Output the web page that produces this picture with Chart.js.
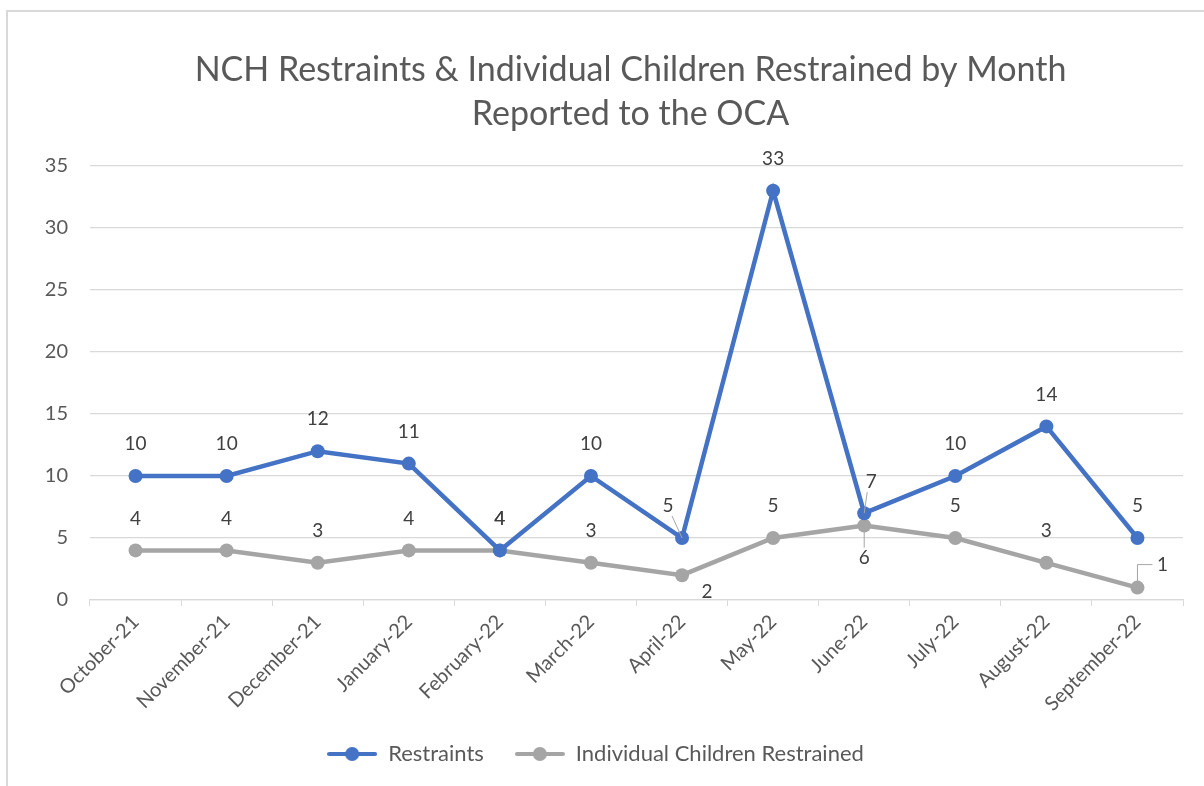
<!DOCTYPE html>
<html>
<head>
<meta charset="utf-8">
<script src="https://cdn.jsdelivr.net/npm/chart.js@4.4.1/dist/chart.umd.min.js"></script>
<style>
  html, body { margin: 0; padding: 0; background: #fff; overflow: hidden; }
  #box {
    position: absolute; left: 6px; top: 10px; width: 1198px; height: 776px;
    border-left: 2px solid #d9d9d9; border-top: 2px solid #d9d9d9; box-sizing: border-box;
  }
  #wrap { position: absolute; left: 0; top: 0; width: 1196px; height: 766px; }
</style>
</head>
<body>
<div id="box"><div id="wrap"><canvas id="nchChart"></canvas></div></div>
<script>
const months = ["October-21", "November-21", "December-21", "January-22", "February-22", "March-22",
    "April-22", "May-22", "June-22", "July-22", "August-22", "September-22"];
const restraints = [10, 10, 12, 11, 4, 10, 5, 33, 7, 10, 14, 5];
const childrenRestrained = [4, 4, 3, 4, 4, 3, 2, 5, 6, 5, 3, 1];
const yTicks = [0, 5, 10, 15, 20, 25, 30, 35];
const titleLines = ["NCH Restraints & Individual Children Restrained by Month", "Reported to the OCA"];

const BLUE = "#4472C4";
const GRAY = "#A5A5A5";
const TEXT = "#595959";
const FONT = "Lato, 'Open Sans', sans-serif";

// label placement tweaks (px from the point), only where Excel moved them
const labelShift = {
    0: { 6: { dx: -14, dy: -32, leader: true }, 8: { dx: 7, dy: -31, leader: true } },
    1: { 6: { dx: 25, dy: 17 }, 8: { dx: 0, dy: 32, leader: true }, 11: { dx: 25, dy: -23, elbow: true } },
};

const titlePlugin = {
    id: "twoLineTitle",
    afterDraw(chart) {
        const { ctx, chartArea } = chart;
        const cx = (chartArea.left + chartArea.right) / 2;
        ctx.save();
        ctx.fillStyle = TEXT;
        ctx.font = "34px " + FONT;
        ctx.textAlign = "center";
        ctx.textBaseline = "middle";
        titleLines.forEach((t, i) => ctx.fillText(t, cx - 6, 58 + i * 44));
        ctx.restore();
    },
};

const valueLabels = {
    id: "valueLabels",
    afterDatasetsDraw(chart) {
        const { ctx } = chart;
        ctx.save();
        ctx.font = "19px " + FONT;
        ctx.textAlign = "center";
        ctx.textBaseline = "middle";
        chart.data.datasets.forEach((ds, di) => {
            const meta = chart.getDatasetMeta(di);
            meta.data.forEach((pt, i) => {
                const s = (labelShift[di] && labelShift[di][i]) || { dx: 0, dy: -32 };
                const lx = pt.x + s.dx, ly = pt.y + s.dy;
                ctx.strokeStyle = GRAY;
                ctx.lineWidth = 1;
                if (s.leader) {
                    ctx.beginPath();
                    ctx.moveTo(pt.x, pt.y);
                    ctx.lineTo(lx + (s.dx < 0 ? 4 : s.dx > 0 ? -4 : 0), ly + (s.dy < 0 ? 10 : -10));
                    ctx.stroke();
                }
                if (s.elbow) {
                    ctx.beginPath();
                    ctx.moveTo(pt.x, pt.y - 6);
                    ctx.lineTo(pt.x, ly);
                    ctx.lineTo(lx - 10, ly);
                    ctx.stroke();
                }
                ctx.fillStyle = "#404040";
                ctx.fillText(String(ds.data[i]), lx, ly);
            });
        });
        ctx.restore();
    },
};

function legendMarker(color) {
    const c = document.createElement("canvas");
    c.width = 50; c.height = 16;
    const g = c.getContext("2d");
    g.strokeStyle = color;
    g.lineWidth = 4;
    g.lineCap = "round";
    g.beginPath(); g.moveTo(2, 8); g.lineTo(48, 8); g.stroke();
    g.fillStyle = color;
    g.beginPath(); g.arc(25, 8, 7, 0, Math.PI * 2); g.fill();
    return c;
}

document.addEventListener("DOMContentLoaded", () => {
    const ctx = document.getElementById("nchChart");
    if (!ctx) return;

    new Chart(ctx, {
        type: "line",
        data: {
            labels: months,
            datasets: [
                {
                    label: "Restraints",
                    data: restraints,
                    borderColor: BLUE,
                    backgroundColor: BLUE,
                    borderWidth: 4.5,
                    pointRadius: 7,
                    pointBorderWidth: 0,
                    pointBackgroundColor: BLUE,
                    tension: 0,
                },
                {
                    label: "Individual Children Restrained",
                    data: childrenRestrained,
                    borderColor: GRAY,
                    backgroundColor: GRAY,
                    borderWidth: 4.5,
                    pointRadius: 7,
                    pointBorderWidth: 0,
                    pointBackgroundColor: GRAY,
                    tension: 0,
                },
            ],
        },
        options: {
            responsive: true,
            maintainAspectRatio: false,
            animation: false,
            layout: { padding: { top: 154, right: 21, left: 0, bottom: 3 } },
            scales: {
                y: {
                    min: 0,
                    max: 35,
                    afterBuildTicks: (axis) => { axis.ticks = yTicks.map(v => ({ value: v })); },
                    afterFit: (axis) => { axis.width = 82; },
                    border: { display: false },
                    grid: { color: "#d9d9d9", lineWidth: 1.2, drawTicks: false },
                    ticks: { color: TEXT, font: { family: FONT, size: 20 }, padding: 22 },
                },
                x: {
                    offset: true,
                    afterFit: (axis) => { axis.height = 112; },
                    border: { display: true, color: "#d9d9d9", width: 1.2 },
                    grid: { offset: true, drawOnChartArea: false, drawTicks: true, tickLength: 6, color: "#d9d9d9" },
                    ticks: {
                        color: TEXT,
                        font: { family: FONT, size: 20 },
                        minRotation: 45,
                        maxRotation: 45,
                        autoSkip: false,
                        padding: 4,
                    },
                },
            },
            plugins: {
                title: { display: false },
                tooltip: { enabled: false },
                legend: {
                    display: true,
                    position: "bottom",
                    labels: {
                        color: TEXT,
                        font: { family: FONT, size: 22 },
                        usePointStyle: true,
                        pointStyleWidth: 50,
                        padding: 31,
                        generateLabels: (chart) => chart.data.datasets.map((ds, i) => ({
                            text: ds.label,
                            fontColor: TEXT,
                            pointStyle: legendMarker(ds.borderColor),
                            strokeStyle: ds.borderColor,
                            fillStyle: ds.borderColor,
                            lineWidth: 0,
                            hidden: false,
                            datasetIndex: i,
                        })),
                    },
                },
            },
        },
        plugins: [titlePlugin, valueLabels],
    });
});
</script>
</body>
</html>
